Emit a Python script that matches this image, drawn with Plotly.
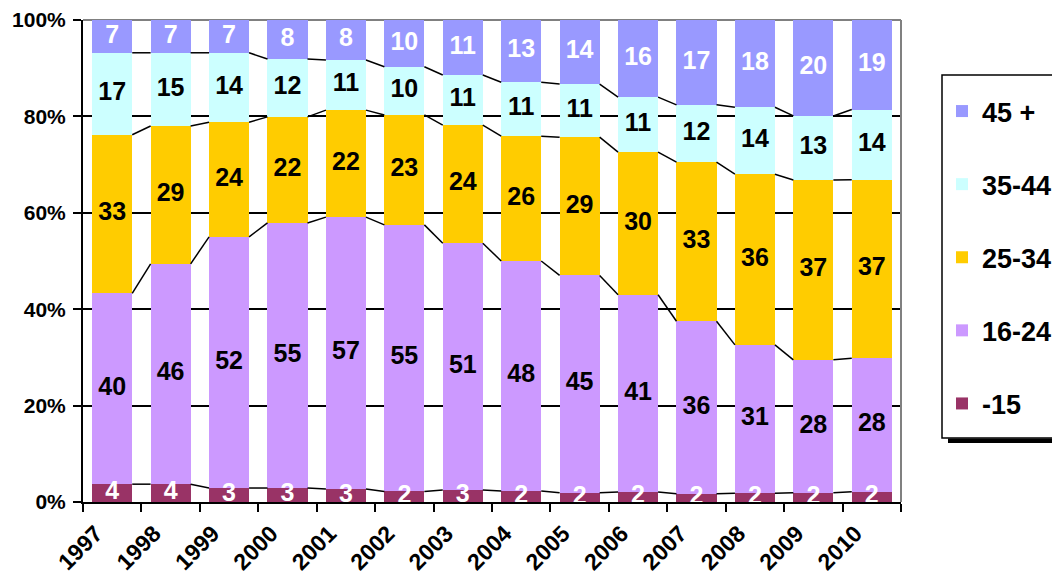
import plotly.graph_objects as go

years = ["1997", "1998", "1999", "2000", "2001", "2002", "2003",
         "2004", "2005", "2006", "2007", "2008", "2009", "2010"]

series_names = ["-15", "16-24", "25-34", "35-44", "45 +"]
colors = ["#993366", "#CC99FF", "#FFCC00", "#CCFFFF", "#9999FF"]
label_colors = ["white", "black", "black", "black", "white"]

# estimated shares (percent)
s_u15 = [3.7, 3.7, 2.9, 2.9, 2.7, 2.2, 2.5, 2.3, 1.9, 2.1, 1.7, 1.8, 1.9, 2.1]
s_16_24 = [39.6, 45.7, 52.1, 55.0, 56.4, 55.3, 51.2, 47.7, 45.1, 40.9, 35.8, 30.8, 27.6, 27.6]
s_25_34 = [32.9, 28.6, 23.8, 22.0, 22.2, 22.8, 24.5, 25.9, 28.7, 29.6, 33.0, 35.4, 37.3, 36.9]
s_35_44 = [17.0, 15.2, 14.4, 12.0, 10.4, 10.0, 10.4, 11.2, 11.0, 11.4, 11.9, 13.9, 13.3, 14.5]
s_45 = [6.8, 6.8, 6.8, 8.1, 8.3, 9.7, 11.4, 12.9, 13.3, 16.0, 17.6, 18.1, 19.9, 18.5]

# data labels shown on the chart
l_u15 = [4, 4, 3, 3, 3, 2, 3, 2, 2, 2, 2, 2, 2, 2]
l_16_24 = [40, 46, 52, 55, 57, 55, 51, 48, 45, 41, 36, 31, 28, 28]
l_25_34 = [33, 29, 24, 22, 22, 23, 24, 26, 29, 30, 33, 36, 37, 37]
l_35_44 = [17, 15, 14, 12, 11, 10, 11, 11, 11, 11, 12, 14, 13, 14]
l_45 = [7, 7, 7, 8, 8, 10, 11, 13, 14, 16, 17, 18, 20, 19]

values = [s_u15, s_16_24, s_25_34, s_35_44, s_45]
labels = [l_u15, l_16_24, l_25_34, l_35_44, l_45]

n = len(years)
xs = list(range(n))
# normalise each year to 100 %
totals = [sum(v[i] for v in values) for i in range(n)]
norm = [[v[i] * 100.0 / totals[i] for i in range(n)] for v in values]

BAR_W = 0.685
FONT = "Liberation Sans, Arial, Helvetica, sans-serif"

fig = go.Figure()

cum = [0.0] * n
bases = []
for k, name in enumerate(series_names):
    bases.append(cum[:])
    fig.add_trace(go.Bar(
        x=xs, y=norm[k], base=cum[:], name=name, width=BAR_W,
        marker=dict(color=colors[k], line=dict(width=0)),
        legendgroup=name, legendrank=len(series_names) - k, hoverinfo="skip",
    ))
    cum = [cum[i] + norm[k][i] for i in range(n)]

# series lines between bars (top of each stacked series except the last)
lx, ly = [], []
for k in range(len(series_names) - 1):
    tops = [bases[k][i] + norm[k][i] for i in range(n)]
    for i in range(n - 1):
        lx += [xs[i] + BAR_W / 2, xs[i + 1] - BAR_W / 2, None]
        ly += [tops[i], tops[i + 1], None]
fig.add_trace(go.Scatter(x=lx, y=ly, mode="lines", showlegend=False,
                         line=dict(color="black", width=1.5), hoverinfo="skip"))

# data labels
for k in range(len(series_names)):
    centers = [bases[k][i] + norm[k][i] / 2 for i in range(n)]
    fig.add_trace(go.Scatter(
        x=xs, y=centers, mode="text", text=[str(t) for t in labels[k]],
        textposition="middle center", showlegend=False, cliponaxis=False,
        textfont=dict(family=FONT, size=25, color=label_colors[k], weight="bold"),
        hoverinfo="skip",
    ))

# page body margin offset (8px) is compensated here
OFF = 8
W, H = 1060 - OFF, 583 - OFF
L, R, T, B = 83 - OFF, 159, 20 - OFF, 81
pw, ph = W - L - R, H - T - B


def px_x(p):
    return (p - OFF - L) / pw


def px_y(p):
    return (H - B - (p - OFF)) / ph


fig.update_layout(
    width=W, height=H,
    margin=dict(l=L, r=R, t=T, b=B, autoexpand=False),
    paper_bgcolor="white", plot_bgcolor="white",
    barmode="overlay", bargap=0,
    font=dict(family=FONT, color="black", weight="bold"),
    xaxis=dict(
        range=[-0.5, n - 0.5], tickmode="array",
        tickvals=[x - 0.28 for x in xs], ticktext=years, tickangle=-45,
        ticks="", showgrid=False, zeroline=False, ticklabelstandoff=7,
        showline=True, linecolor="black", linewidth=2,
        tickfont=dict(family=FONT, size=23, color="black", weight="bold"),
        minor=dict(tickmode="array", tickvals=[x - 0.5 for x in xs] + [n - 0.5],
                   ticks="outside", ticklen=8, tickwidth=2, tickcolor="black",
                   showgrid=False),
        fixedrange=True,
    ),
    yaxis=dict(
        range=[0, 100], tickmode="array", tickvals=[0, 20, 40, 60, 80, 100],
        ticktext=["0%", "20%", "40%", "60%", "80%", "100%"],
        ticks="outside", ticklen=8, tickwidth=2, tickcolor="black",
        showgrid=True, gridcolor="black", gridwidth=2,
        zeroline=False, showline=True, linecolor="black", linewidth=2,
        tickfont=dict(family=FONT, size=21, color="black", weight="bold"),
        ticklabelstandoff=3,
        fixedrange=True,
    ),
    legend=dict(
        x=px_x(942), y=px_y(87), xanchor="left", yanchor="top",
        traceorder="grouped", tracegroupgap=35,
        borderwidth=0, bgcolor="rgba(0,0,0,0)",
        font=dict(family=FONT, size=27, color="black", weight="bold"),
        itemwidth=30,
    ),
    shapes=[
        # plot-area border (top / right)
        dict(type="line", xref="paper", yref="paper", x0=0, x1=1, y0=1, y1=1,
             line=dict(color="#808080", width=2), layer="below"),
        dict(type="line", xref="paper", yref="paper", x0=1, x1=1, y0=0, y1=1,
             line=dict(color="#808080", width=2), layer="above"),
        # legend box
        dict(type="rect", xref="paper", yref="paper",
             x0=px_x(942), x1=px_x(1075), y0=px_y(438), y1=px_y(75),
             line=dict(width=1.5, color="black"), fillcolor="white", layer="below"),
        # legend shadow
        dict(type="rect", xref="paper", yref="paper",
             x0=px_x(948), x1=px_x(1075), y0=px_y(443), y1=px_y(438.5),
             line=dict(width=0), fillcolor="black"),
    ],
)

fig.write_html("out.html")
